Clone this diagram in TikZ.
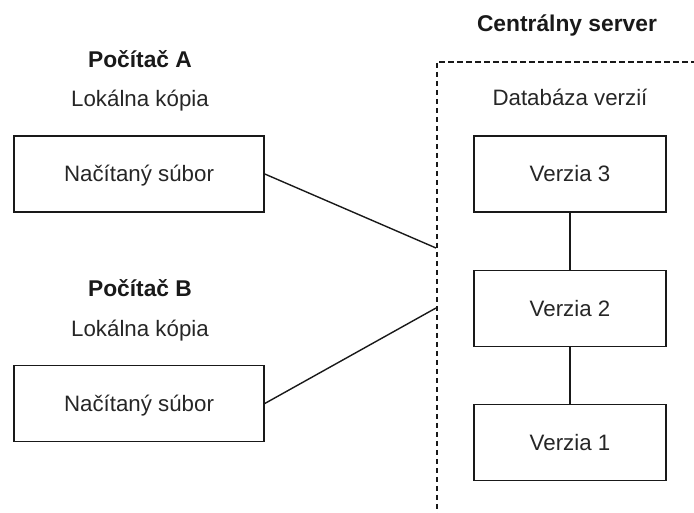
\documentclass[tikz,border=0pt]{standalone}
\usepackage{fontspec}
\setmainfont{Liberation Sans}
\begin{document}
\begin{tikzpicture}[x=1pt,y=-1pt,
  every node/.style={font=\fontsize{22.3}{26}\selectfont, text=black!85},
  filebox/.style={draw=black!90, line width=1.6pt, minimum width=250pt, minimum height=76pt,
    inner sep=0pt, text height=16pt, text depth=0pt},
  link/.style={draw=black!90, line width=1.4pt},
  area/.style={draw=black!90, line width=1.7pt, dash pattern=on 5.5pt off 3.5pt},
  title/.style={font=\fontsize{22.8}{26}\selectfont\bfseries, anchor=base, text=black!90},
  caption/.style={anchor=base}]
\path[use as bounding box] (0,0) rectangle (694,513);
\clip (0,0) rectangle (694,513);

% server area (extends past the right and bottom edges)
\node[area, anchor=north west, minimum width=320pt, minimum height=520pt] (srv) at (436,61) {};
\node[title] (srvt) at (567,32) {Centrálny server};
\node[caption] (db) at (570,106) {Databáza verzií};

% client computers
\node[title] (pca) at (140,68) {Počítač A};
\node[caption] (lka) at (140,107) {Lokálna kópia};
\node[filebox] (fa) at (139,174) {Načítaný súbor};

\node[title] (pcb) at (140,297) {Počítač B};
\node[caption] (lkb) at (140,337) {Lokálna kópia};
\node[filebox] (fb) at (139,403.5) {Načítaný súbor};

% version chain
\node[filebox, minimum width=192pt] (v3) at (570,174) {Verzia 3};
\node[filebox, minimum width=192pt] (v2) at (570,308.5) {Verzia 2};
\node[filebox, minimum width=192pt] (v1) at (570,442.5) {Verzia 1};

\coordinate (ja) at (436,248);
\coordinate (jb) at (436,308);

\draw[link] (fa.east) -- (ja);
\draw[link] (fb.east) -- (jb);
\draw[link] (v3) -- (v2);
\draw[link] (v2) -- (v1);
\end{tikzpicture}
\end{document}
